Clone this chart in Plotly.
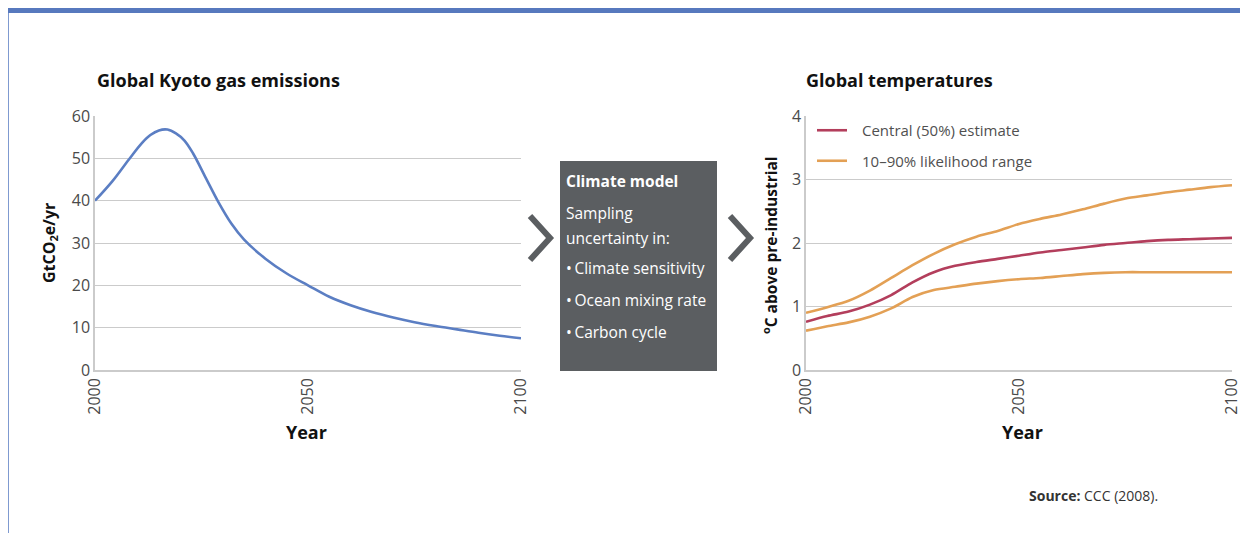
import plotly.graph_objects as go

# page body has an 8px margin: figure is drawn from page pixel (8, 8)
OFF = 8
W, H = 1240, 525

years_em = [2000, 2004, 2008, 2011, 2013, 2015, 2017, 2019, 2021, 2023, 2026, 2029, 2032, 2035,
            2040, 2045, 2050, 2055, 2060, 2065, 2070, 2075, 2080, 2085, 2090, 2095, 2100]
emissions = [40.0, 44.5, 49.8, 53.6, 55.5, 56.6, 56.8, 55.9, 54.2, 51.2, 45.4, 39.6, 34.6, 30.8,
             26.3, 22.8, 20.0, 17.3, 15.3, 13.7, 12.4, 11.3, 10.4, 9.6, 8.8, 8.1, 7.5]

years_t = list(range(2000, 2101, 5))
temp_upper = [0.90, 0.99, 1.09, 1.25, 1.45, 1.65, 1.83, 1.98, 2.10, 2.19, 2.30, 2.38,
              2.45, 2.53, 2.62, 2.70, 2.75, 2.80, 2.84, 2.88, 2.91]
temp_central = [0.76, 0.85, 0.92, 1.03, 1.18, 1.38, 1.54, 1.64, 1.70, 1.75, 1.80, 1.85,
                1.89, 1.93, 1.97, 2.00, 2.03, 2.05, 2.06, 2.07, 2.08]
temp_lower = [0.62, 0.69, 0.75, 0.84, 0.97, 1.15, 1.26, 1.31, 1.36, 1.40, 1.43, 1.45,
              1.48, 1.51, 1.53, 1.54, 1.54, 1.54, 1.54, 1.54, 1.54]

x_ticks = [2000, 2050, 2100]
y_ticks_em = [0, 10, 20, 30, 40, 50, 60]
y_ticks_t = [0, 1, 2, 3, 4]

BLUE = "#5b7ec3"
CRIMSON = "#b33e5c"
ORANGE = "#e3a055"
GRID = "#cbcbcb"
BOX = "#5b5e61"
FONT = "Open Sans"


def px(x):
    return (x - OFF) / W


def py(y):
    return 1 - (y - OFF) / H


fig = go.Figure()

fig.add_trace(go.Scatter(x=years_em, y=emissions, mode="lines",
                         line=dict(color=BLUE, width=2.6, shape="spline", smoothing=1.0),
                         xaxis="x", yaxis="y", showlegend=False, hoverinfo="skip"))

fig.add_trace(go.Scatter(x=years_t, y=temp_central, mode="lines", name="\u2002\u2009Central (50%) estimate",
                         line=dict(color=CRIMSON, width=2.6, shape="spline", smoothing=0.8),
                         xaxis="x2", yaxis="y2", legendgroup="c", hoverinfo="skip"))
fig.add_trace(go.Scatter(x=years_t, y=temp_upper, mode="lines", name="\u2002\u200910\u201390% likelihood range",
                         line=dict(color=ORANGE, width=2.6, shape="spline", smoothing=0.8),
                         xaxis="x2", yaxis="y2", legendgroup="r", hoverinfo="skip"))
fig.add_trace(go.Scatter(x=years_t, y=temp_lower, mode="lines", name="10\u201390% likelihood range",
                         line=dict(color=ORANGE, width=2.6, shape="spline", smoothing=0.8),
                         xaxis="x2", yaxis="y2", legendgroup="r", showlegend=False, hoverinfo="skip"))

tickfont = dict(family=FONT, size=16, color="#4a4a4a")
common_x = dict(range=[2000, 2100], tickmode="array", tickvals=x_ticks, ticktext=[str(v) for v in x_ticks],
                tickangle=-90, showgrid=False, zeroline=False, showline=True, linecolor=GRID, linewidth=1.5,
                ticks="", tickfont=tickfont, fixedrange=True, automargin=False)
common_y = dict(showgrid=True, gridcolor=GRID, gridwidth=1.2, zeroline=False, showline=True, linecolor=GRID,
                linewidth=1.5, ticks="", tickfont=tickfont, fixedrange=True, automargin=False)

dom_y = [py(370), py(116)]
fig.update_layout(
    width=W, height=H, margin=dict(l=0, r=0, t=0, b=0, autoexpand=False),
    paper_bgcolor="white", plot_bgcolor="white",
    font=dict(family=FONT, color="#333"),
    xaxis=dict(domain=[px(95), px(521)], anchor="y", **common_x),
    yaxis=dict(domain=dom_y, anchor="x", range=[0, 60], tickvals=y_ticks_em, **common_y),
    xaxis2=dict(domain=[px(806), px(1232)], anchor="y2", **common_x),
    yaxis2=dict(domain=dom_y, anchor="x2", range=[0, 4], tickvals=y_ticks_t, **common_y),
    legend=dict(x=px(812), y=py(114), xanchor="left", yanchor="top", bgcolor="rgba(0,0,0,0)",
                font=dict(family=FONT, size=15, color="#505050"), traceorder="grouped", tracegroupgap=8,
                itemwidth=30),
    showlegend=True,
)

shapes = [
    dict(type="rect", xref="paper", yref="paper", x0=0, x1=1, y0=py(13), y1=1, fillcolor="#5779be",
         line=dict(width=0), layer="above"),
    dict(type="line", xref="paper", yref="paper", x0=px(8.5), x1=px(8.5), y0=0, y1=py(13),
         line=dict(color="#7f9ad0", width=1)),
    dict(type="rect", xref="paper", yref="paper", x0=px(560), x1=px(717), y0=py(371), y1=py(161),
         fillcolor=BOX, line=dict(width=0)),
    dict(type="path", xref="paper", yref="paper",
         path=f"M {px(530)} {py(216)} L {px(550)} {py(238)} L {px(530)} {py(260)}",
         line=dict(color=BOX, width=6)),
    dict(type="path", xref="paper", yref="paper",
         path=f"M {px(730)} {py(216)} L {px(750)} {py(238)} L {px(730)} {py(260)}",
         line=dict(color=BOX, width=6)),
]
fig.update_layout(shapes=shapes)

ann = []


def text(x, y, s, size=15, color="#222", bold=False, xanchor="left", angle=0):
    ann.append(dict(xref="paper", yref="paper", x=px(x), y=py(y), text=(f"<b>{s}</b>" if bold else s),
                    showarrow=False, xanchor=xanchor, yanchor="middle", textangle=angle,
                    font=dict(family=FONT, size=size, color=color)))


text(95, 80, "Global Kyoto gas emissions", size=18, color="#111", bold=True)
text(804, 80, "Global temperatures", size=18, color="#111", bold=True)
text(50, 243, "GtCO<sub>2</sub>e/yr", size=16, color="#111", bold=True, xanchor="center", angle=-90)
text(770, 245, "<sup>o</sup>C above pre-industrial", size=15.5, color="#111", bold=True, xanchor="center", angle=-90)
text(306, 432, "Year", size=18, color="#111", bold=True, xanchor="center")
text(1022, 432, "Year", size=18, color="#111", bold=True, xanchor="center")

text(564, 181, "Climate model", size=15.5, color="white", bold=True)
text(564, 213, "Sampling", size=15.5, color="white")
text(564, 238, "uncertainty in:", size=15.5, color="white")
text(564, 268, "\u2022\u2009Climate sensitivity", size=15.5, color="white")
text(564, 300, "\u2022\u2009Ocean mixing rate", size=15.5, color="white")
text(564, 332, "\u2022\u2009Carbon cycle", size=15.5, color="white")

text(1027, 495, "<b>Source:</b> CCC (2008).", size=14, color="#333")

fig.update_layout(annotations=ann)

fig.write_html("out.html")
